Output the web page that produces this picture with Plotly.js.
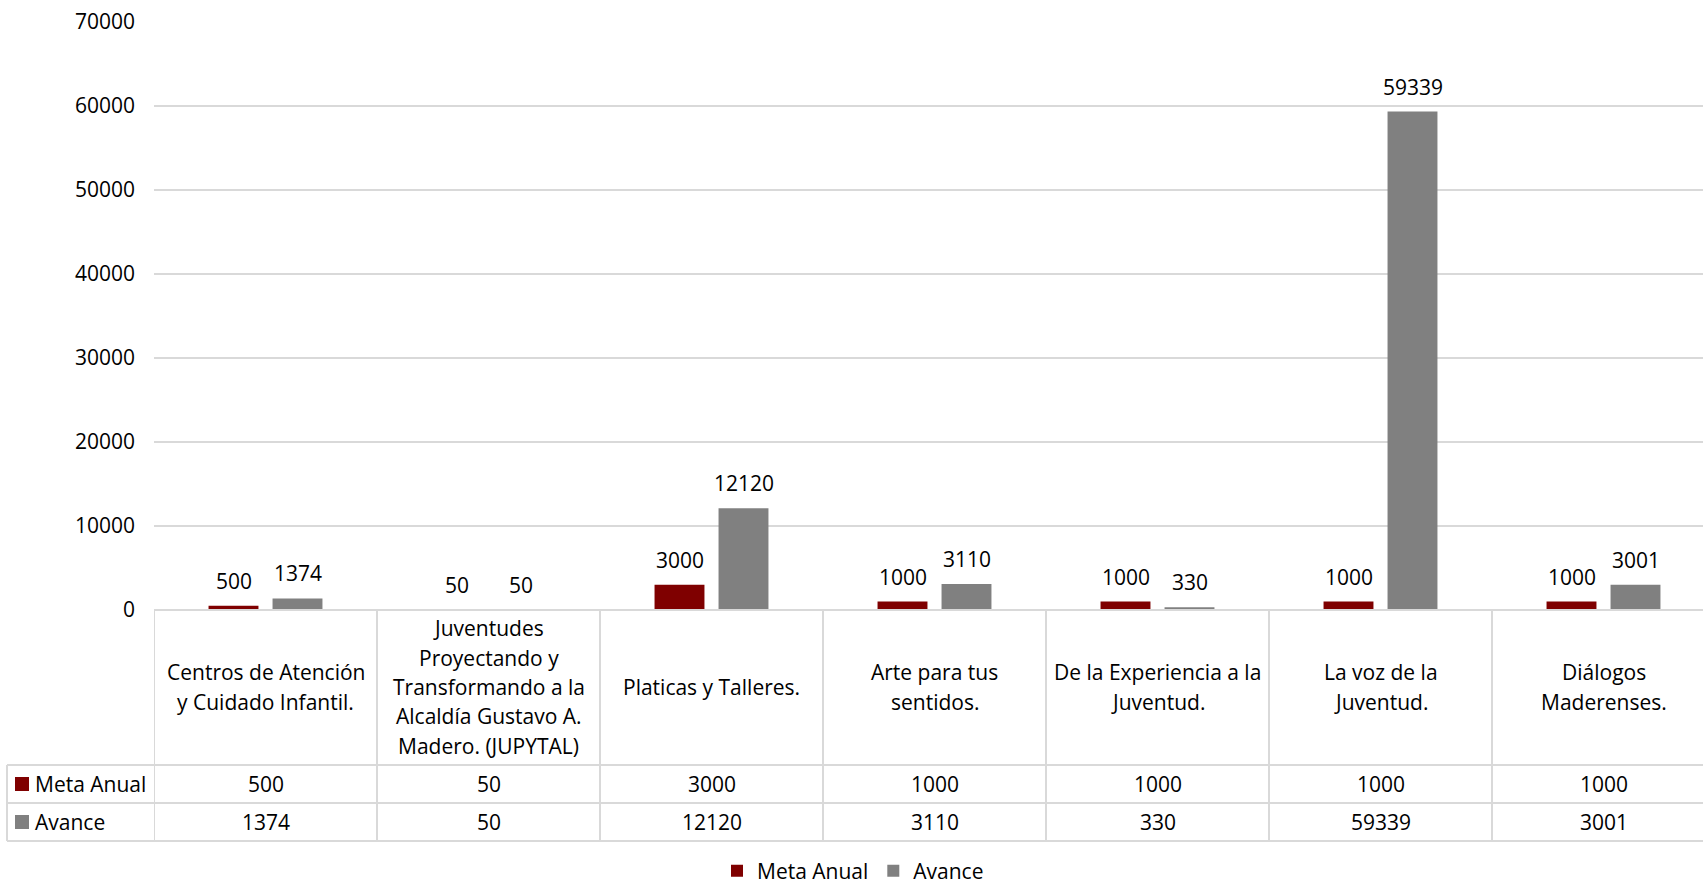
<!DOCTYPE html>
<html>
<head>
<meta charset="utf-8">
<script src="https://cdn.plot.ly/plotly-3.0.1.min.js"></script>
<style>
html,body{margin:0;padding:0;background:#fff;}
#chart{width:1703px;height:886px;}
</style>
</head>
<body>
<div id="chart"></div>
<script>
// ---- data ----
const categories = [
  "Centros de Atención\ny Cuidado Infantil.",
  "Juventudes\nProyectando y\nTransformando a la\nAlcaldía Gustavo A.\nMadero. (JUPYTAL)",
  "Platicas y Talleres.",
  "Arte para tus\nsentidos.",
  "De la Experiencia a la\nJuventud.",
  "La voz de la\nJuventud.",
  "Diálogos\nMaderenses."
];
const seriesNames = ["Meta Anual", "Avance"];
const metaAnual = [500, 50, 3000, 1000, 1000, 1000, 1000];
const avance = [1374, 50, 12120, 3110, 330, 59339, 3001];
const yTicks = [0, 10000, 20000, 30000, 40000, 50000, 60000, 70000];

// ---- style ----
const colors = ["#7f0000", "#808080"];
const FONT = "Open Sans, Noto Sans, sans-serif";
const FS = 21;
const W = 1703, H = 886;
const M = {l: 154, r: 0, t: 22, b: 276};
const plotW = W - M.l - M.r, plotH = H - M.t - M.b;
const catW = 223; // px per category
const px2x = p => (p - M.l) / plotW;
const px2y = p => (H - M.b - p) / plotH;
const gridC = "#d9d9d9";
const barGap = 0.426, barGroupGap = 0.22;
const seriesOffset = [-(1 - barGap) / 4, (1 - barGap) / 4];

const xCats = categories.map(c => c.replace(/\n/g, " "));
const seriesData = [metaAnual, avance];

const traces = seriesData.map((vals, i) => ({
  type: "bar",
  name: seriesNames[i],
  x: xCats,
  y: vals,
  marker: {color: colors[i], line: {width: 0}},
  hoverinfo: "x+y+name"
}));

const shapes = [];
const annotations = [];
const line = (x0, y0, x1, y1, xref, yref) => shapes.push({
  type: "line", xref: xref, yref: yref, x0: x0, y0: y0, x1: x1, y1: y1,
  line: {color: gridC, width: 2}, layer: "above"
});

// data labels above bars
seriesData.forEach((vals, i) => {
  vals.forEach((v, k) => annotations.push({
    x: k + seriesOffset[i], xref: "x", y: v, yref: "y", text: String(v),
    showarrow: false, xanchor: "center", yanchor: "middle", yshift: 25,
    font: {family: FONT, size: FS, color: "#000"}
  }));
});

// table borders
line(0, 0, 1, 0, "paper", "paper");
[765, 803, 841].forEach(p => line(px2x(7), px2y(p), 1, px2y(p), "paper", "paper"));
line(px2x(7), px2y(765), px2x(7), px2y(841), "paper", "paper");
for (let k = 0; k < categories.length; k++) {
  line(k - 0.5, 0, k - 0.5, px2y(841), "x", "paper");
}

// category header text
const lineGap = 29.3, headerMid = 687;
categories.forEach((c, k) => {
  const lines = c.split("\n");
  lines.forEach((t, i) => {
    const p = headerMid + (i - (lines.length - 1) / 2) * lineGap;
    annotations.push({
      x: k, xref: "x", y: px2y(p), yref: "paper", text: t, showarrow: false,
      xanchor: "center", yanchor: "middle",
      font: {family: FONT, size: FS, color: "#000"}
    });
  });
});

// table value rows
const rowMid = [784, 822];
seriesData.forEach((vals, i) => {
  shapes.push({
    type: "rect", xref: "paper", yref: "paper",
    x0: px2x(15), x1: px2x(29), y0: px2y(rowMid[i] - 7), y1: px2y(rowMid[i] + 7),
    fillcolor: colors[i], line: {width: 0}
  });
  annotations.push({
    x: px2x(33), xref: "paper", y: px2y(rowMid[i]), yref: "paper",
    text: seriesNames[i], showarrow: false, xanchor: "left", yanchor: "middle",
    font: {family: FONT, size: FS, color: "#000"}
  });
  vals.forEach((v, k) => annotations.push({
    x: k, xref: "x", y: px2y(rowMid[i]), yref: "paper", text: String(v),
    showarrow: false, xanchor: "center", yanchor: "middle",
    font: {family: FONT, size: FS, color: "#000"}
  }));
});

const layout = {
  width: W, height: H,
  margin: M,
  paper_bgcolor: "#fff", plot_bgcolor: "#fff",
  font: {family: FONT, size: FS, color: "#000"},
  barmode: "group",
  bargap: barGap,
  bargroupgap: barGroupGap,
  showlegend: true,
  legend: {
    orientation: "h", xref: "container", yref: "container",
    x: 853 / W, xanchor: "center", y: (H - 871) / H, yanchor: "middle",
    font: {family: FONT, size: FS, color: "#000"}, traceorder: "normal"
  },
  xaxis: {
    type: "category", range: [-0.5, -0.5 + plotW / catW],
    showticklabels: false, showgrid: false, zeroline: false, showline: false, fixedrange: true
  },
  yaxis: {
    range: [0, 70000], tickvals: yTicks, ticktext: yTicks.map(String),
    showgrid: true, gridcolor: gridC, gridwidth: 2, zeroline: false, showline: false,
    ticks: "", ticklabelstandoff: 18,
    tickfont: {family: FONT, size: FS, color: "#000"}, fixedrange: true
  },
  shapes: shapes,
  annotations: annotations
};

Plotly.newPlot("chart", traces, layout, {displayModeBar: false, staticPlot: true});
</script>
</body>
</html>
